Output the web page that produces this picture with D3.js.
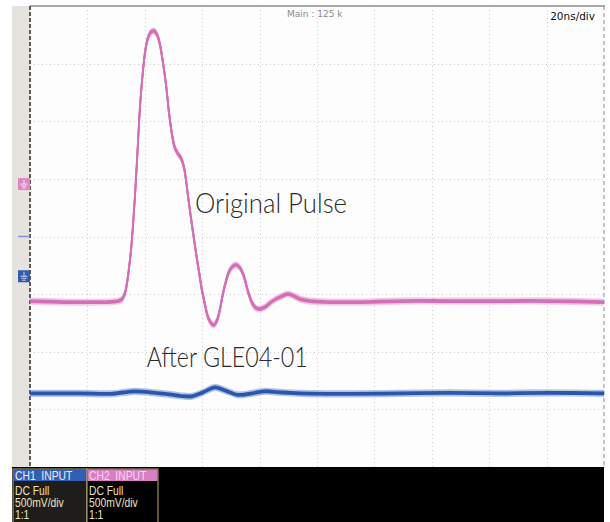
<!DOCTYPE html>
<html>
<head>
<meta charset="utf-8">
<script src="https://cdn.jsdelivr.net/npm/d3@7/dist/d3.min.js"></script>
<style>
  body { margin: 0; background: #fff; }
  svg { display: block; }
</style>
</head>
<body>
<div id="chart"></div>
<script>
// scope settings
const time_per_div_ns = 20;
const mv_per_div = 500;
const n_div_x = 10;
const n_div_y = 8;

// CH2 (pink) : original pulse, time in ns, level in mV from its ground marker
const ch2_time_ns = [0, 30.7, 32.1, 33.1, 33.8, 34.5, 35.2, 35.9, 36.6, 37.3, 38.0, 38.7, 39.4, 40.1, 41.1, 42.2,
  43.2, 44.3, 45.3, 46.3, 47.4, 48.4, 49.5, 50.5, 51.6, 52.6, 53.7, 54.7, 55.7, 56.8, 57.8, 58.9, 59.9, 61.0,
  62.0, 63.1, 64.1, 65.2, 66.2, 67.2, 68.3, 69.3, 70.4, 71.8, 73.2, 74.6, 76.0, 77.4, 78.7, 80.1, 81.9, 83.6,
  85.7, 87.8, 89.9, 92.0, 94.1, 97.6, 104.5, 115.0, 128.9, 146.3, 163.8, 181.2, 200];
const ch2_mv = [-1015, -1015, -998, -945, -859, -728, -572, -355, -95, 209, 539, 799, 990, 1147, 1268, 1320,
  1329, 1294, 1207, 1060, 860, 626, 426, 313, 261, 226, 140, -34, -225, -416, -590, -763, -919, -1050,
  -1154, -1206, -1223, -1180, -1084, -954, -841, -763, -720, -702, -728, -807, -937, -1032, -1076, -1084, -1067, -1032,
  -998, -972, -954, -972, -998, -1015, -1024, -1024, -1015, -1015, -1015, -1015, -1024];
const ch2_offset_div = 0.91;

// CH1 (blue) : after GLE04-01
const ch1_time_ns = [0, 17.4, 27.9, 36.6, 41.8, 47.0, 52.3, 56.4, 60.3, 64.5, 67.9, 72.5, 77.4, 81.9, 87.1,
  94.1, 111.5, 128.9, 146.3, 163.8, 181.2, 200];
const ch1_mv = [-1016, -1016, -1020, -998, -1007, -1020, -1037, -1042, -1007, -964, -990, -1029, -1016, -998, -1007,
  -1016, -1020, -1016, -1012, -1016, -1012, -1016];
const ch1_offset_div = -0.69;

// labels
const labels = [
  { text: "Original Pulse", t: 57.5, div: 0.4, len: 152 },
  { text: "After GLE04-01", t: 40.7, div: -2.26, len: 161 }
];
const channel_boxes = [
  { title: "CH1\u00a0\u00a0INPUT", lines: ["DC Full", "500mV/div", "1:1"], head: "#2f5fb6", body: "#1e1d1b", ink: "#f0f0f0" },
  { title: "CH2\u00a0\u00a0INPUT", lines: ["DC Full", "500mV/div", "1:1"], head: "#d97fc3", body: "#000", ink: "#f7d8ee" }
];

const W = 610, H = 522;
const plot = { left: 30, right: 604, top: 6, bottom: 467 };

const svg = d3.select("#chart").append("svg").attr("width", W).attr("height", H);

const x = d3.scaleLinear().domain([0, n_div_x * time_per_div_ns]).range([plot.left, plot.right]);
const y_div = d3.scaleLinear().domain([-n_div_y / 2, n_div_y / 2]).range([plot.bottom, plot.top]);

// background + left marker strip
svg.append("rect").attr("x", plot.left).attr("y", plot.top)
  .attr("width", plot.right - plot.left).attr("height", plot.bottom - plot.top).attr("fill", "#fdfdfd");
svg.append("rect").attr("x", 12).attr("y", plot.top)
  .attr("width", plot.left - 12).attr("height", plot.bottom - plot.top).attr("fill", "#e6e3de");

// dotted grid
const grid = svg.append("g").attr("stroke", "#cdcdcd").attr("stroke-width", 1).attr("stroke-dasharray", "1,3");
grid.selectAll("line.v").data(x.ticks(n_div_x).slice(1, -1)).join("line")
  .attr("x1", d => Math.round(x(d)) + 0.5).attr("x2", d => Math.round(x(d)) + 0.5)
  .attr("y1", plot.top).attr("y2", plot.bottom);
grid.selectAll("line.h").data(d3.range(-n_div_y / 2 + 1, n_div_y / 2)).join("line")
  .attr("y1", d => Math.round(y_div(d)) + 0.5).attr("y2", d => Math.round(y_div(d)) + 0.5)
  .attr("x1", plot.left).attr("x2", plot.right);

// frame
svg.append("line").attr("x1", plot.left).attr("x2", plot.right + 1).attr("y1", plot.top).attr("y2", plot.top)
  .attr("stroke", "#8c8c8c").attr("stroke-width", 1.5);
svg.append("line").attr("x1", plot.left).attr("x2", plot.left).attr("y1", plot.top).attr("y2", plot.bottom)
  .attr("stroke", "#5a5a5a").attr("stroke-width", 2).attr("stroke-dasharray", "4,2");
svg.append("line").attr("x1", plot.right).attr("x2", plot.right).attr("y1", plot.top).attr("y2", plot.bottom)
  .attr("stroke", "#8c8c8c").attr("stroke-width", 1).attr("stroke-dasharray", "4,3");

// traces: the noise band is mostly vertical, so stack shifted copies of the line
const draw_trace = function(time, mv, offset, core, halo) {
  const pts = time.map((t, i) => [x(t), y_div(mv[i] / mv_per_div + offset)]);
  const line = d3.line().curve(d3.curveCatmullRom.alpha(0.5));
  const g = svg.append("g").attr("fill", "none").attr("stroke-linejoin", "round");
  [-3, -2, 2, 3].forEach(dy => {
    g.append("path").attr("d", line(pts)).attr("transform", `translate(0,${dy})`)
      .attr("stroke", halo).attr("stroke-width", 1.2).attr("opacity", 0.55);
  });
  [-1, 0, 1].forEach(dy => {
    g.append("path").attr("d", line(pts)).attr("transform", `translate(0,${dy})`)
      .attr("stroke", core).attr("stroke-width", 1.8);
  });
};
draw_trace(ch2_time_ns, ch2_mv, ch2_offset_div, "#d46fb7", "#e6a5d6");
draw_trace(ch1_time_ns, ch1_mv, ch1_offset_div, "#2b56ad", "#7c98d0");

// ground markers on the left strip
const ground_marker = function(div, color) {
  const yc = y_div(div);
  const g = svg.append("g").attr("transform", `translate(18,${yc - 6})`);
  g.append("rect").attr("width", 12).attr("height", 12).attr("fill", color);
  g.append("path").attr("d", "M6,1.5V6M2.5,6H9.5M3.5,8H8.5M4.5,10H7.5")
    .attr("stroke", "#fff").attr("stroke-width", 0.9).attr("opacity", 0.85);
};
ground_marker(ch2_offset_div, "#dc86c6");
ground_marker(ch1_offset_div, "#2f5cae");
svg.append("line").attr("x1", 18).attr("x2", 30).attr("y1", y_div(0)).attr("y2", y_div(0))
  .attr("stroke", "#7a95cf").attr("stroke-width", 1.5);

// header texts
svg.append("text").attr("x", 287).attr("y", 17).attr("fill", "#8a8a8a")
  .style("font", "9px 'DejaVu Sans', sans-serif").text("Main : 125 k");
svg.append("text").attr("x", 595).attr("y", 20).attr("text-anchor", "end").attr("fill", "#111")
  .style("font", "10.5px 'DejaVu Sans', sans-serif").text("20ns/div");

// trace labels
svg.selectAll("text.lbl").data(labels).join("text").attr("class", "lbl")
  .attr("x", d => x(d.t)).attr("y", d => y_div(d.div))
  .attr("textLength", d => d.len).attr("lengthAdjust", "spacingAndGlyphs")
  .attr("fill", "#2a2a2a")
  .style("font-family", "Lato, 'Open Sans', sans-serif").style("font-weight", 300).style("font-size", "28px")
  .text(d => d.text);

// bottom channel bar
svg.append("rect").attr("x", 12).attr("y", plot.bottom).attr("width", plot.right - 12).attr("height", H - plot.bottom)
  .attr("fill", "#000");
const box_w = [74, 71];
let bx = 13;
channel_boxes.forEach((b, i) => {
  const g = svg.append("g").attr("transform", `translate(${bx},469)`);
  g.append("rect").attr("width", box_w[i]).attr("height", 56).attr("fill", b.body)
    .attr("stroke", "#c2ab7c").attr("stroke-width", 1);
  g.append("rect").attr("x", 0.5).attr("y", 0.5).attr("width", box_w[i] - 1).attr("height", 11.5).attr("fill", b.head)
    .attr("rx", 1);
  // tahoma-like narrow text
  const tg = g.append("g").attr("transform", "translate(2,0) scale(0.86,1)")
    .style("font", "12px 'Liberation Sans', Arial, sans-serif");
  tg.append("text").attr("y", 10.8).attr("fill", b.ink).text(b.title);
  tg.selectAll("text.l").data(b.lines).join("text").attr("class", "l")
    .attr("y", (d, j) => 26 + j * 12).attr("fill", "#efe3bd")
    .text(d => d);
  bx += box_w[i];
});
</script>
</body>
</html>
